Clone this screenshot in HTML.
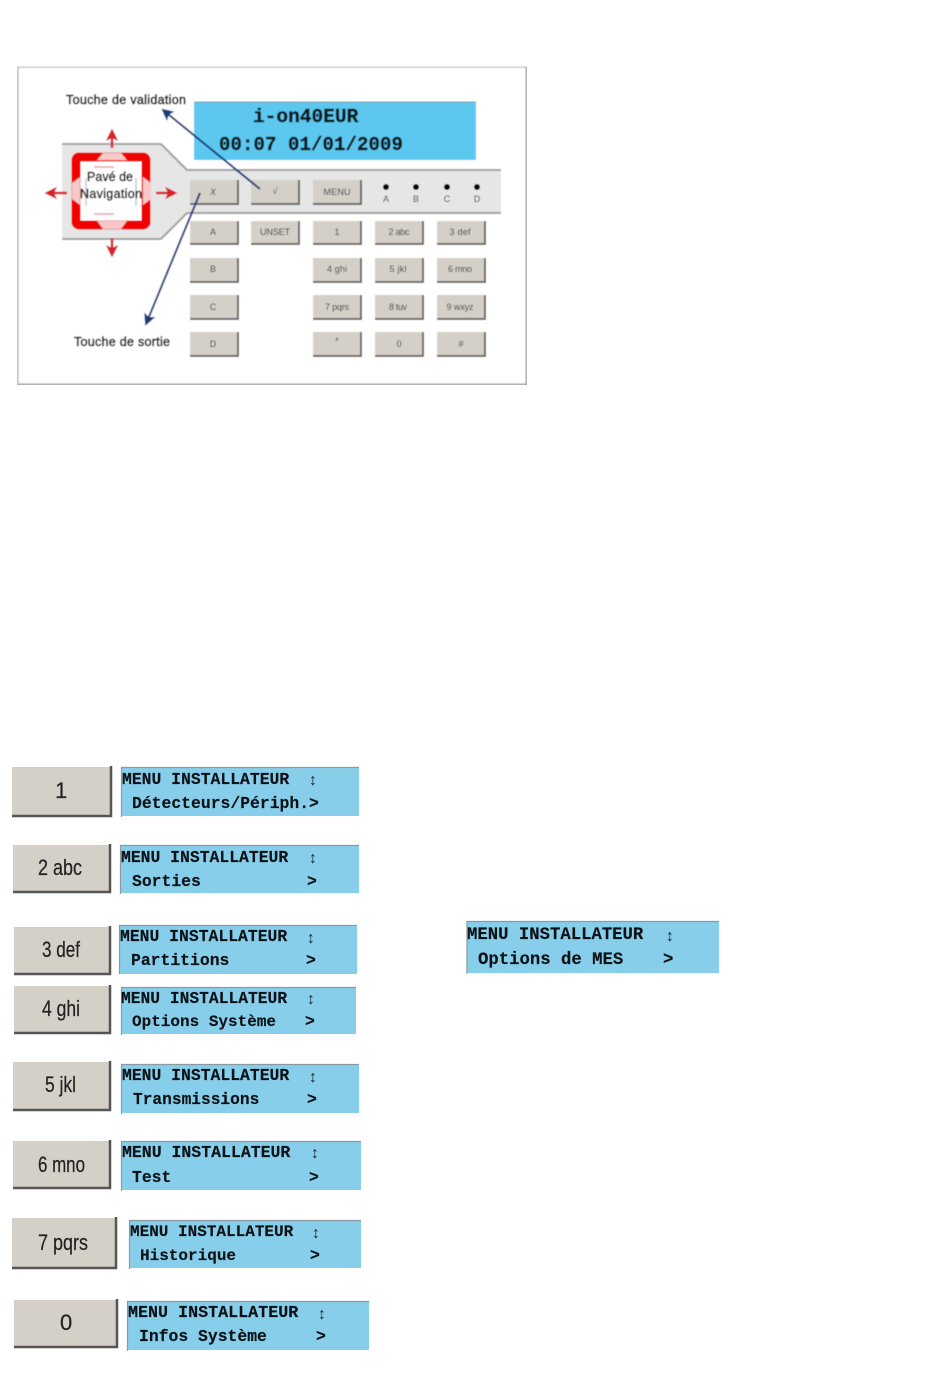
<!DOCTYPE html>
<html><head><meta charset="utf-8"><title>Clavier</title>
<style>
html,body{margin:0;padding:0;background:#fff}
svg{display:block}
.m{font-family:"Liberation Mono",monospace;font-weight:bold;fill:#0c1216;stroke:#0c1216;stroke-width:0.15}
.a{font-family:"Liberation Mono",monospace;font-weight:normal;fill:#1a2a30;font-size:16px}
.s{font-family:"Liberation Sans",sans-serif;fill:#111}
.k{font-family:"Liberation Sans",sans-serif;font-size:9px;fill:#333;text-anchor:middle}
.b{font-family:"Liberation Sans",sans-serif;font-size:22px;fill:#222;stroke:#222;stroke-width:0.2}
.p{fill:#87ceeb}
.e{fill:none;stroke:#8a9a9f;stroke-width:1.2}
.kb{fill:#d4d0c8;stroke:none}
.ks{fill:none;stroke:#666;stroke-width:2}
.bb{fill:#d4d0c8}
.bs{fill:none;stroke:#555;stroke-width:2.5}
</style></head>
<body>
<svg width="950" height="1383" viewBox="0 0 950 1383" xmlns="http://www.w3.org/2000/svg">
<defs>
<marker id="ra" markerWidth="5" markerHeight="5" refX="2" refY="2.5" orient="auto"><path d="M0,0L5,2.5L0,5L1.2,2.5Z" fill="#d8202c"/></marker>
<marker id="ba" markerWidth="6" markerHeight="6" refX="5" refY="3" orient="auto"><path d="M0,0L6,3L0,6L1.3,3Z" fill="#1f3a78"/></marker>
<filter id="f" x="0" y="0" width="100%" height="100%"><feGaussianBlur stdDeviation="0.5"/></filter>
</defs>

<g filter="url(#f)">
<rect x="17.5" y="66.5" width="509" height="318" fill="#fff" stroke="#c4c4c4" stroke-width="2.5"/>
<path d="M527,67V385H17" fill="none" stroke="#aaa" stroke-width="2"/>
<rect x="194" y="102" width="282" height="58" fill="#5bc8f0"/>
<path d="M194,102H476" stroke="#7a9aa8" fill="none"/>
<text class="m" x="253" y="122" font-size="19.5" style="stroke-width:.4">i-on40EUR</text>
<text class="m" x="219" y="150" font-size="19" style="stroke-width:.4" letter-spacing="0.1">00:07 01/01/2009</text>

<path d="M62,144H161L187,170H501V213H187L161,239H62Z" fill="#e6e6e6"/>
<path d="M62,144H161L187,170H501" fill="none" stroke="#a0a0a0" stroke-width="2"/>
<path d="M62,239H161L187,213H501" fill="none" stroke="#a0a0a0" stroke-width="2"/>

<rect x="76" y="157" width="70" height="68" rx="3" fill="#fff" stroke="#f00000" stroke-width="9"/>
<path d="M94,167h20M94,214h20" stroke="#e8a0a8" stroke-width="1.5"/>
<path d="M86,178v28M136,178v28" stroke="#c8c8c8" stroke-width="1.5"/>
<path d="M103,153H121L127,160H97Z M103,229H121L127,221H97Z M72,183L80,177V205L72,199Z M151,183L143,177V205L151,199Z" fill="#f8c8c8"/>
<text class="s" x="110" y="181" font-size="12.5" text-anchor="middle" textLength="46" stroke="#111" stroke-width="0.45">Pavé de</text>
<text class="s" x="111" y="198" font-size="12.5" text-anchor="middle" textLength="62" stroke="#111" stroke-width="0.45">Navigation</text>

<g stroke="#d8202c" stroke-width="2.5" fill="none" marker-end="url(#ra)">
<path d="M112,148V136"/><path d="M112,238V250"/><path d="M67,193H52"/><path d="M156,193H170"/>
</g>

<g class="keys">
<rect class="kb" x="190" y="180" width="48" height="24"/><path class="ks" d="M190,204H238V180"/>
<rect class="kb" x="251" y="180" width="48" height="24"/><path class="ks" d="M251,204H299V180"/>
<rect class="kb" x="313" y="180" width="48" height="24"/><path class="ks" d="M313,204H361V180"/>
<rect class="kb" x="190" y="221" width="48" height="23"/><path class="ks" d="M190,244H238V221"/>
<rect class="kb" x="251" y="221" width="48" height="23"/><path class="ks" d="M251,244H299V221"/>
<rect class="kb" x="313" y="221" width="48" height="23"/><path class="ks" d="M313,244H361V221"/>
<rect class="kb" x="375" y="221" width="48" height="23"/><path class="ks" d="M375,244H423V221"/>
<rect class="kb" x="437" y="221" width="48" height="23"/><path class="ks" d="M437,244H485V221"/>
<rect class="kb" x="190" y="258" width="48" height="24"/><path class="ks" d="M190,282H238V258"/>
<rect class="kb" x="313" y="258" width="48" height="24"/><path class="ks" d="M313,282H361V258"/>
<rect class="kb" x="375" y="258" width="48" height="24"/><path class="ks" d="M375,282H423V258"/>
<rect class="kb" x="437" y="258" width="48" height="24"/><path class="ks" d="M437,282H485V258"/>
<rect class="kb" x="190" y="295" width="48" height="24"/><path class="ks" d="M190,319H238V295"/>
<rect class="kb" x="313" y="295" width="48" height="24"/><path class="ks" d="M313,319H361V295"/>
<rect class="kb" x="375" y="295" width="48" height="24"/><path class="ks" d="M375,319H423V295"/>
<rect class="kb" x="437" y="295" width="48" height="24"/><path class="ks" d="M437,319H485V295"/>
<rect class="kb" x="190" y="332" width="48" height="24"/><path class="ks" d="M190,356H238V332"/>
<rect class="kb" x="313" y="332" width="48" height="24"/><path class="ks" d="M313,356H361V332"/>
<rect class="kb" x="375" y="332" width="48" height="24"/><path class="ks" d="M375,356H423V332"/>
<rect class="kb" x="437" y="332" width="48" height="24"/><path class="ks" d="M437,356H485V332"/>
</g>
<text class="k" x="213" y="195" font-style="italic" font-size="10">X</text>
<text class="k" x="275" y="194">√</text>
<text class="k" x="337" y="195" font-size="10" textLength="27">MENU</text>
<text class="k" x="213" y="235">A</text>
<text class="k" x="275" y="235" textLength="30">UNSET</text>
<text class="k" x="337" y="235">1</text>
<text class="k" x="399" y="235" textLength="21">2 abc</text>
<text class="k" x="460" y="235" textLength="21">3 def</text>
<text class="k" x="213" y="272">B</text>
<text class="k" x="337" y="272" textLength="20">4 ghi</text>
<text class="k" x="398" y="272" textLength="17">5 jkl</text>
<text class="k" x="460" y="272" textLength="24">6 mno</text>
<text class="k" x="213" y="310">C</text>
<text class="k" x="337" y="310" textLength="24">7 pqrs</text>
<text class="k" x="398" y="310" textLength="18">8 tuv</text>
<text class="k" x="460" y="310" textLength="27">9 wxyz</text>
<text class="k" x="213" y="347">D</text>
<text class="k" x="337" y="344">*</text>
<text class="k" x="399" y="347">0</text>
<text class="k" x="461" y="347">#</text>

<circle cx="386" cy="187" r="3" fill="#000"/><circle cx="416" cy="187" r="3" fill="#000"/>
<circle cx="447" cy="187" r="3" fill="#000"/><circle cx="477" cy="187" r="3" fill="#000"/>
<text class="k" x="386" y="202" font-size="8" fill="#888">A</text><text class="k" x="416" y="202" font-size="8">B</text>
<text class="k" x="447" y="202" font-size="8">C</text><text class="k" x="477" y="202" font-size="8">D</text>

<g stroke="#1f3a78" stroke-width="2" fill="none" marker-end="url(#ba)">
<path d="M260,189L163,110"/><path d="M200,193L146,324"/>
</g>
<text class="s" x="66" y="104" font-size="12.5" textLength="120" stroke="#111" stroke-width="0.55">Touche de validation</text>
<text class="s" x="74" y="346" font-size="12.5" textLength="96" stroke="#111" stroke-width="0.55">Touche de sortie</text>
</g>

<!-- rows -->
<rect class="bb" x="12" y="767" width="100" height="49"/><path class="bs" d="M12,816H111V766"/>
<text class="b" x="55" y="798">1</text>
<rect class="p" x="122" y="768" width="237" height="48"/><path class="e" d="M121.5,817V767.5H359"/>
<text class="m" x="122" y="784" font-size="16.4">MENU INSTALLATEUR</text><text class="a" x="308" y="785">↕</text>
<text class="m" x="132" y="808" font-size="16.4">Détecteurs/Périph.&gt;</text>

<rect class="bb" x="13" y="845" width="98" height="47"/><path class="bs" d="M13,892H110V844"/>
<text class="b" x="38" y="875" textLength="44" lengthAdjust="spacingAndGlyphs">2 abc</text>
<rect class="p" x="121" y="846" width="238" height="47"/><path class="e" d="M120.5,894V845.5H359"/>
<text class="m" x="121" y="862" font-size="16.4">MENU INSTALLATEUR</text><text class="a" x="308" y="863">↕</text>
<text class="m" x="132" y="886" font-size="16.4">Sorties</text><text class="m" x="307" y="886" font-size="16.4">&gt;</text>

<rect class="bb" x="14" y="927" width="97" height="47"/><path class="bs" d="M14,974H110V926"/>
<text class="b" x="42" y="957" textLength="38" lengthAdjust="spacingAndGlyphs">3 def</text>
<rect class="p" x="120" y="926" width="237" height="48"/><path class="e" d="M119.5,974V925.5H357"/>
<text class="m" x="120" y="941" font-size="16.4">MENU INSTALLATEUR</text><text class="a" x="306" y="943">↕</text>
<text class="m" x="131" y="965" font-size="16.4">Partitions</text><text class="m" x="306" y="965" font-size="16.4">&gt;</text>

<rect class="bb" x="14" y="986" width="97" height="47"/><path class="bs" d="M14,1033H110V985"/>
<text class="b" x="42" y="1016" textLength="38" lengthAdjust="spacingAndGlyphs">4 ghi</text>
<rect class="p" x="122" y="988" width="234" height="46"/><path class="e" d="M121.5,1035V987.5H356"/>
<text class="m" x="121" y="1003" font-size="16.3">MENU INSTALLATEUR</text><text class="a" x="306" y="1004">↕</text>
<text class="m" x="132" y="1026" font-size="16">Options Système</text><text class="m" x="305" y="1026" font-size="16.4">&gt;</text>

<rect class="bb" x="13" y="1062" width="98" height="48"/><path class="bs" d="M13,1110H110V1061"/>
<text class="b" x="45" y="1092" textLength="31" lengthAdjust="spacingAndGlyphs">5 jkl</text>
<rect class="p" x="122" y="1065" width="237" height="48"/><path class="e" d="M121.5,1114V1064.5H359"/>
<text class="m" x="122" y="1080" font-size="16.4">MENU INSTALLATEUR</text><text class="a" x="308" y="1082">↕</text>
<text class="m" x="133" y="1104" font-size="16.2">Transmissions</text><text class="m" x="307" y="1104" font-size="16.4">&gt;</text>

<rect class="bb" x="13" y="1141" width="98" height="47"/><path class="bs" d="M13,1188H110V1140"/>
<text class="b" x="38" y="1172" textLength="47" lengthAdjust="spacingAndGlyphs">6 mno</text>
<rect class="p" x="122" y="1142" width="239" height="48"/><path class="e" d="M121.5,1191V1141.5H361"/>
<text class="m" x="122" y="1157" font-size="16.5">MENU INSTALLATEUR</text><text class="a" x="310" y="1158">↕</text>
<text class="m" x="132" y="1182" font-size="16.4">Test</text><text class="m" x="309" y="1182" font-size="16.4">&gt;</text>

<rect class="bb" x="12" y="1218" width="104" height="50"/><path class="bs" d="M12,1268H116V1217"/>
<text class="b" x="38" y="1250" textLength="50" lengthAdjust="spacingAndGlyphs">7 pqrs</text>
<rect class="p" x="130" y="1221" width="231" height="47"/><path class="e" d="M129.5,1269V1220.5H361"/>
<text class="m" x="130" y="1236" font-size="16">MENU INSTALLATEUR</text><text class="a" x="311" y="1238">↕</text>
<text class="m" x="140" y="1260" font-size="16">Historique</text><text class="m" x="310" y="1260" font-size="16.4">&gt;</text>

<rect class="bb" x="14" y="1300" width="103" height="47"/><path class="bs" d="M14,1347H117V1299"/>
<text class="b" x="60" y="1330">0</text>
<rect class="p" x="128" y="1302" width="241" height="48"/><path class="e" d="M127.5,1351V1301.5H369"/>
<text class="m" x="128" y="1317" font-size="16.7">MENU INSTALLATEUR</text><text class="a" x="317" y="1319">↕</text>
<text class="m" x="139" y="1341" font-size="16.4">Infos Système</text><text class="m" x="316" y="1341" font-size="16.4">&gt;</text>

<rect class="p" x="467" y="922" width="252" height="51"/><path class="e" d="M467,974V921.5H719" stroke-width="2"/>
<text class="m" x="467" y="939" font-size="17.3">MENU INSTALLATEUR</text><text class="a" x="665" y="941">↕</text>
<text class="m" x="478" y="964" font-size="17.3">Options de MES</text><text class="m" x="663" y="964" font-size="17.3">&gt;</text>
</svg>
</body></html>
